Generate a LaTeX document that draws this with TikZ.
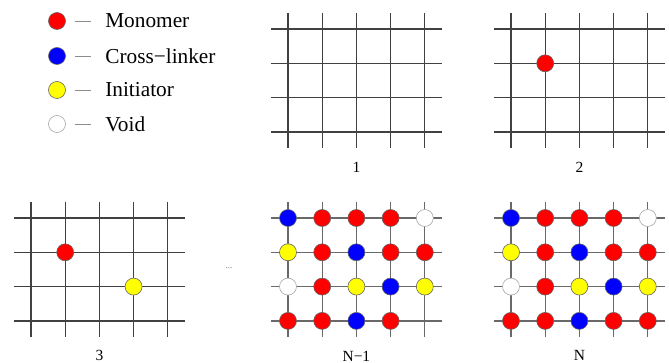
\documentclass[tikz,border=0pt]{standalone}
\usepackage{fontspec}
\setmainfont{Liberation Serif}
\usetikzlibrary{positioning}
\definecolor{monored}{RGB}{255,0,0}
\definecolor{linkblue}{RGB}{0,0,255}
\definecolor{inityellow}{RGB}{255,255,0}
\definecolor{griddark}{RGB}{65,65,65}
\definecolor{gridlight}{RGB}{105,105,105}

\begin{document}
\begin{tikzpicture}[x=1pt, y=-1pt,
  site/.style={circle, draw=black!60, line width=0.6pt, minimum size=17pt, inner sep=0pt},
  mono/.style={site, fill=monored},
  link/.style={site, fill=linkblue},
  init/.style={site, fill=inityellow},
  void/.style={site, fill=white, draw=black!35},
  gridline/.style={line width=1.3pt},
  panellabel/.style={font=\fontsize{15.5}{15.5}\selectfont, inner sep=1pt},
  keytext/.style={font=\fontsize{21.3}{21.3}\selectfont, inner sep=0pt}]
  \useasboundingbox (0,0) rectangle (669,363);

  % legend
  \foreach \kind/\txt/\y [count=\i] in {mono/Monomer/21, link/Cross−linker/56, init/Initiator/90, void/Void/124} {
    \node[\kind] (key\i) at (57,\y) {};
    \node[keytext, right=39.3pt of key\i.east, anchor=west] (name\i) {\txt};
    \draw[black!45, line width=0.8pt] ([xshift=9.3pt]key\i.east) -- ([xshift=25.3pt]key\i.east);
  }

  % lattices 1, 2, 3, N-1, N
  \foreach \px/\py/\lab/\tone [count=\p] in {288/29/1/griddark, 511/29/2/griddark, 31/218/3/griddark, 288/218/N−1/gridlight, 511/218/N/gridlight} {
    \foreach \c in {0,...,4}
      \draw[gridline, \tone] (\px+\c*34.2, \py-16) -- (\px+\c*34.2, \py+3*34.3+16);
    \foreach \r in {0,...,3} {
      \draw[gridline, \tone] (\px-17, \py+\r*34.3) -- (\px+4*34.2+17, \py+\r*34.3);
      \foreach \c in {0,...,4}
        \coordinate (g\p-\r-\c) at (\px+\c*34.2, \py+\r*34.3);
    }
    \node[panellabel] (lab\p) at (\px+2*34.2, \py+3*34.3+35) {\lab};
  }

  \node[text=black!55, font=\fontsize{9}{9}\selectfont] (gap) at (229,268) {...};

  % early steps
  \node[mono] (s2-1-1) at (g2-1-1) {};
  \node[mono] (s3-1-1) at (g3-1-1) {};
  \node[init] (s3-2-3) at (g3-2-3) {};

  % step N-1 (last site still empty)
  \foreach \row [count=\r from 0] in {{link,mono,mono,mono,void},{init,mono,link,mono,mono},{void,mono,init,link,init},{mono,mono,link,mono}}
    \foreach \kind [count=\c from 0] in \row
      \node[\kind] (s4-\r-\c) at (g4-\r-\c) {};

  % step N
  \foreach \row [count=\r from 0] in {{link,mono,mono,mono,void},{init,mono,link,mono,mono},{void,mono,init,link,init},{mono,mono,link,mono,mono}}
    \foreach \kind [count=\c from 0] in \row
      \node[\kind] (s5-\r-\c) at (g5-\r-\c) {};
\end{tikzpicture}
\end{document}
